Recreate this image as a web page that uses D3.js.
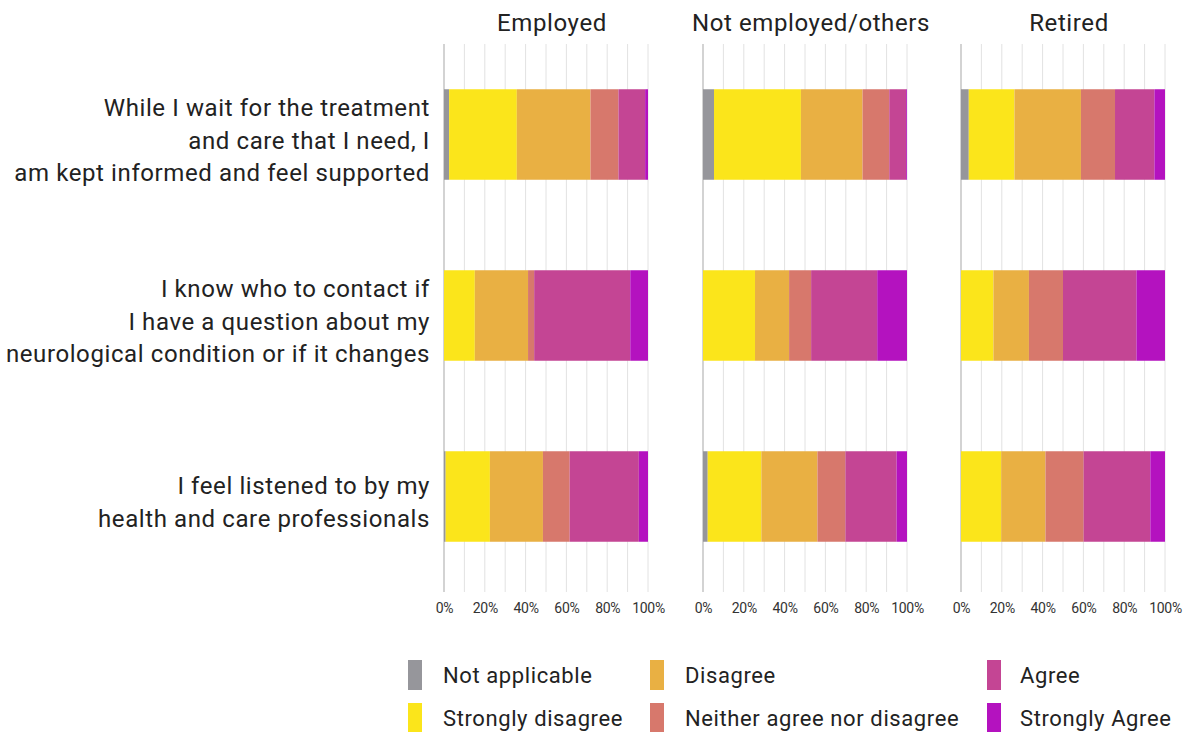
<!DOCTYPE html>
<html>
<head>
<meta charset="utf-8">
<script src="https://cdn.jsdelivr.net/npm/d3@7"></script>
<style>
  html, body { margin: 0; padding: 0; background: #fff; }
  svg { display: block; font-family: Roboto, "Noto Sans", sans-serif; }
</style>
</head>
<body>
<svg id="chart" width="1194" height="732"></svg>
<script>
// Response categories, in stacking order
const categories = ["Not applicable", "Strongly disagree", "Disagree", "Neither agree nor disagree", "Agree", "Strongly Agree"];
const colors = ["#96969b", "#fbe51b", "#e9b043", "#d7786c", "#c44594", "#b412bf"];

// Employment groups (one panel each)
const groups = ["Employed", "Not employed/others", "Retired"];

// Survey statements (one row each)
const questions = [
  ["While I wait for the treatment", "and care that I need, I", "am kept informed and feel supported"],
  ["I know who to contact if", "I have a question about my", "neurological condition or if it changes"],
  ["I feel listened to by my", "health and care professionals"]
];

// Share of responses (%) per statement, in category order
const employed = [
  [2.5, 33.2, 36.1, 13.7, 13.1, 1.4],
  [0.0, 15.1, 26.1, 3.0, 47.1, 8.7],
  [0.8, 21.7, 26.0, 13.1, 33.9, 4.5]
];
const notEmployed = [
  [5.4, 42.6, 30.2, 13.1, 8.3, 0.4],
  [0.0, 25.5, 16.7, 10.8, 32.4, 14.6],
  [2.3, 26.3, 27.5, 13.7, 25.1, 5.1]
];
const retired = [
  [3.8, 22.4, 32.6, 16.7, 19.3, 5.2],
  [0.0, 15.9, 17.4, 16.7, 36.0, 14.0],
  [0.0, 19.7, 21.7, 18.7, 32.7, 7.2]
];

const tickValues = [0, 20, 40, 60, 80, 100];
const tickLabels = ["0%", "20%", "40%", "60%", "80%", "100%"];

const groupData = [employed, notEmployed, retired];

const svg = d3.select("#chart");

const panelLeft = [444, 703, 961];
const panelWidth = 204;
const gridTop = 44, gridBottom = 592;

const y = d3.scaleBand()
  .domain(d3.range(questions.length))
  .range([44, 587])
  .paddingInner(0.5)
  .paddingOuter(0.25);

const stack = d3.stack().keys(d3.range(categories.length));

groups.forEach((g, gi) => {
  const x = d3.scaleLinear().domain([0, 100]).range([panelLeft[gi], panelLeft[gi] + panelWidth]);
  const panel = svg.append("g");

  // vertical gridlines every 10%
  panel.selectAll("line.grid")
    .data(d3.range(0, 101, 10))
    .join("line")
    .attr("x1", d => x(d)).attr("x2", d => x(d))
    .attr("y1", gridTop).attr("y2", gridBottom)
    .attr("stroke", d => d === 0 ? "#c4c4c4" : "#e2e2e2")
    .attr("stroke-width", d => d === 0 ? 1.5 : 1);

  // panel title
  panel.append("text")
    .attr("x", x(50) + 6)
    .attr("y", 31)
    .attr("text-anchor", "middle")
    .attr("font-size", 24)
    .attr("letter-spacing", 0.6)
    .attr("fill", "#222")
    .text(g);

  // stacked bars
  const series = stack(groupData[gi]);
  panel.selectAll("g.series")
    .data(series)
    .join("g")
    .attr("fill", (d, i) => colors[i])
    .selectAll("rect")
    .data(d => d)
    .join("rect")
    .attr("x", d => x(d[0]))
    .attr("width", d => Math.max(0, x(d[1]) - x(d[0])))
    .attr("y", (d, i) => y(i))
    .attr("height", y.bandwidth());

  // x axis labels
  const axis = d3.axisBottom(x)
    .tickValues(tickValues)
    .tickFormat((d, i) => tickLabels[i])
    .tickSize(0)
    .tickPadding(0);
  const ax = panel.append("g")
    .attr("transform", `translate(0, 603)`)
    .call(axis);
  ax.select(".domain").remove();
  ax.selectAll("text")
    .attr("font-size", 14)
    .attr("font-family", "Roboto, sans-serif")
    .attr("fill", "#333")
    .attr("letter-spacing", -0.3);
});

// statement labels
const labels = svg.append("g");
questions.forEach((lines, qi) => {
  const cy = y(qi) + y.bandwidth() / 2 + 6;
  const lh = 32.5;
  const t = labels.append("text")
    .attr("text-anchor", "end")
    .attr("font-size", 24)
    .attr("letter-spacing", 0.6)
    .attr("fill", "#222");
  lines.forEach((ln, li) => {
    t.append("tspan")
      .attr("x", 430)
      .attr("y", cy + (li - (lines.length - 1) / 2) * lh)
      .attr("dominant-baseline", "central")
      .text(ln);
  });
});

// legend: three columns, two rows
const legendCols = [408, 650, 987];
const legendRows = [660, 703];
const legend = svg.append("g");
categories.forEach((c, i) => {
  const col = Math.floor(i / 2), row = i % 2;
  const gx = legendCols[col], gy = legendRows[row];
  legend.append("rect")
    .attr("x", gx).attr("y", gy)
    .attr("width", 14).attr("height", 30)
    .attr("fill", colors[i]);
  legend.append("text")
    .attr("x", gx + (col === 2 ? 33 : 35))
    .attr("y", gy + 15)
    .attr("dominant-baseline", "central")
    .attr("font-size", 22)
    .attr("letter-spacing", 0.6)
    .attr("fill", "#222")
    .text(c);
});
</script>
</body>
</html>
